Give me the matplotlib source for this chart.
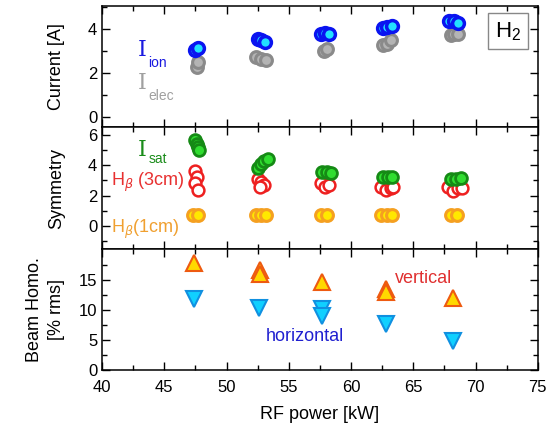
import matplotlib.pyplot as plt
from matplotlib.ticker import MultipleLocator, FixedLocator

# RF power [kW] / values
ion_x = [47.5, 47.7, 52.5, 52.8, 53.1, 57.6, 57.9, 58.2, 62.6, 62.9, 63.3, 67.9, 68.3, 68.6]
ion_y = [3.05, 3.15, 3.55, 3.5, 3.4, 3.8, 3.85, 3.8, 4.05, 4.1, 4.15, 4.35, 4.35, 4.3]
elec_x = [47.6, 47.7, 52.4, 52.8, 53.2, 57.8, 58.1, 62.6, 62.9, 63.2, 68.0, 68.3, 68.6]
elec_y = [2.3, 2.5, 2.75, 2.65, 2.6, 3.0, 3.1, 3.3, 3.35, 3.5, 3.75, 3.8, 3.8]

sat_x = [47.5, 47.6, 47.7, 47.8, 52.5, 52.8, 53.0, 53.3, 57.7, 58.1, 58.4, 62.6, 63.0, 63.3, 68.0, 68.4, 68.8]
sat_y = [5.7, 5.4, 5.2, 5.0, 3.8, 4.1, 4.3, 4.4, 3.55, 3.55, 3.5, 3.2, 3.2, 3.25, 3.1, 3.1, 3.15]
hb3_x = [47.5, 47.6, 47.5, 47.7, 52.5, 52.8, 53.0, 52.7, 57.6, 57.9, 58.2, 62.4, 62.8, 63.2, 63.4, 67.8, 68.2, 68.6, 68.9]
hb3_y = [3.6, 3.2, 2.8, 2.4, 3.1, 2.9, 2.7, 2.6, 2.8, 2.6, 2.7, 2.6, 2.4, 2.5, 2.6, 2.6, 2.3, 2.5, 2.5]
hb1_x = [47.3, 47.7, 52.4, 52.8, 53.2, 57.6, 58.1, 62.4, 62.9, 63.3, 68.0, 68.5]
hb1_y = [0.75, 0.75, 0.75, 0.75, 0.75, 0.75, 0.75, 0.75, 0.75, 0.75, 0.75, 0.75]

vert_x = [47.4, 52.7, 52.7, 57.7, 62.8, 62.8, 68.2]
vert_y = [17.9, 16.7, 16.1, 14.7, 13.5, 13.0, 12.1]
hor_x = [47.4, 52.6, 57.7, 57.7, 62.8, 68.2]
hor_y = [11.8, 10.4, 10.2, 9.0, 7.7, 4.8]

plt.rcParams['font.family'] = ['Liberation Sans', 'DejaVu Sans']

fig, axs = plt.subplots(3, 1, sharex=True, figsize=(5.55, 4.32), dpi=100)
fig.subplots_adjust(left=0.184, right=0.969, top=0.986, bottom=0.1435, hspace=0)
ax1, ax2, ax3 = axs

ms = 8.5
# Current
ax1.plot(elec_x, elec_y, 'o', ms=ms, mfc='#b4b4b4', mec='#8a8a8a', mew=2.2)
ax1.plot(ion_x, ion_y, 'o', ms=ms, mfc='#22e0ff', mec='#0a14f0', mew=2.5)
ax1.set_ylim(-0.45, 5.05)
ax1.yaxis.set_major_locator(MultipleLocator(2))
ax1.yaxis.set_minor_locator(MultipleLocator(1))
ax1.set_ylabel('Current [A]', fontsize=13, labelpad=10)
ax1.text(43.2, 3.05, 'I', family='DejaVu Serif', fontsize=16, color='#1a1ae0', ha='center', va='center')
ax1.text(43.7, 2.45, 'ion', fontsize=10, color='#1a1ae0', ha='left', va='center')
ax1.text(43.2, 1.55, 'I', family='DejaVu Serif', fontsize=16, color='#a0a0a0', ha='center', va='center')
ax1.text(43.7, 0.95, 'elec', fontsize=10, color='#a0a0a0', ha='left', va='center')
ax1.text(72.6, 3.9, r'H$_\mathregular{2}$', fontsize=16, ha='center', va='center',
         bbox=dict(boxstyle='square,pad=0.3', fc='white', ec='#888888', lw=1))

# Symmetry
ax2.plot(hb1_x, hb1_y, 'o', ms=ms, mfc='#ffe800', mec='#f5a020', mew=2.2)
ax2.plot(hb3_x, hb3_y, 'o', ms=ms, mfc='white', mec='#ee2020', mew=1.8)
ax2.plot(sat_x, sat_y, 'o', ms=ms, mfc='#30dd30', mec='#158a15', mew=2.0)
ax2.set_ylim(-1.5, 6.5)
ax2.yaxis.set_major_locator(MultipleLocator(2))
ax2.yaxis.set_minor_locator(MultipleLocator(1))
ax2.set_ylabel('Symmetry', fontsize=13, labelpad=10)
ax2.text(43.2, 5.0, 'I', family='DejaVu Serif', fontsize=16, color='#1a8c1a', ha='center', va='center')
ax2.text(43.7, 4.4, 'sat', fontsize=10, color='#1a8c1a', ha='left', va='center')
ax2.text(40.7, 2.9, r'H$_\beta$ (3cm)', fontsize=13, color='#e83030', ha='left', va='center')
ax2.text(40.7, -0.2, r'H$_\beta$(1cm)', fontsize=13, color='#f0a030', ha='left', va='center')

# Beam homogeneity
ax3.plot(vert_x, vert_y, '^', ms=11, mfc='#ffd800', mec='#ee5a10', mew=1.5)
ax3.plot(hor_x, hor_y, 'v', ms=11, mfc='#10d0ff', mec='#1090e0', mew=1.5)
ax3.set_ylim(0, 20.3)
ax3.yaxis.set_major_locator(FixedLocator([0, 5, 10, 15]))
ax3.yaxis.set_minor_locator(FixedLocator([2.5, 7.5, 12.5, 17.5]))
ax3.set_ylabel('Beam Homo.\n[% rms]', fontsize=13, linespacing=1.4, labelpad=10)
ax3.text(65.8, 15.3, 'vertical', fontsize=13, color='#e03030', ha='center', va='center')
ax3.text(56.3, 5.6, 'horizontal', fontsize=13, color='#2020d0', ha='center', va='center')

ax3.set_xlim(40, 75)
ax3.xaxis.set_major_locator(MultipleLocator(5))
ax3.xaxis.set_minor_locator(MultipleLocator(2.5))
ax3.set_xlabel('RF power [kW]', fontsize=13, labelpad=8)

for ax in axs:
    ax.tick_params(which='both', direction='in', top=True, right=True, labelsize=12)
    ax.tick_params(which='major', length=6, width=1)
    ax.tick_params(which='minor', length=3.5, width=1)
    for s in ax.spines.values():
        s.set_linewidth(1.1)
ax3.tick_params(axis='x', which='major', pad=7)

fig.align_ylabels(axs)
plt.savefig('out.png', dpi=100)
